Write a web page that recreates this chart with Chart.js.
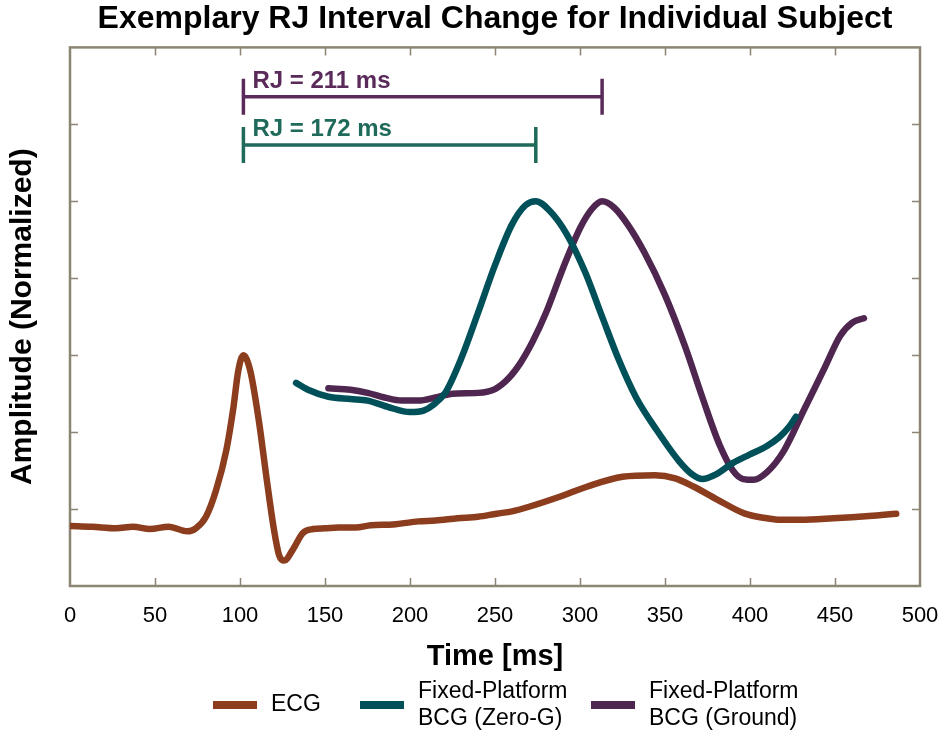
<!DOCTYPE html>
<html>
<head>
<meta charset="utf-8">
<script src="https://cdn.jsdelivr.net/npm/chart.js@4.4.0/dist/chart.umd.min.js"></script>
<style>
  html, body { margin: 0; padding: 0; background: #fff; }
</style>
</head>
<body>
<canvas id="rj-chart" width="941" height="734"></canvas>
<script>
// Traces: time in ms, amplitude in normalized units (frame ticks at 1..6)
const ecgMs  = [0, 13, 27, 37, 47, 58, 69, 74, 80, 86, 92, 96, 99, 102, 106, 111, 116, 120, 123, 126, 131, 137, 143, 150, 158, 168, 177, 190, 205, 215, 228, 240, 251, 260, 270, 288, 304, 325, 344, 356, 367, 381, 397, 410, 418, 430, 449, 470, 486];
const ecgAmp = [0.78, 0.77, 0.75, 0.77, 0.74, 0.77, 0.71, 0.75, 0.90, 1.25, 1.77, 2.30, 2.80, 3.00, 2.80, 2.16, 1.34, 0.73, 0.40, 0.33, 0.47, 0.69, 0.74, 0.75, 0.76, 0.76, 0.79, 0.80, 0.84, 0.85, 0.88, 0.90, 0.94, 0.97, 1.03, 1.16, 1.29, 1.42, 1.44, 1.40, 1.29, 1.12, 0.94, 0.88, 0.86, 0.86, 0.88, 0.91, 0.94];

const zeroGMs  = [133, 140, 152, 165, 175, 188, 200, 208, 214, 221, 230, 240, 250, 260, 268, 274, 282, 292, 303, 313, 323, 333, 345, 358, 366, 372, 380, 390, 400, 410, 417, 423, 427];
const zeroGAmp = [2.64, 2.55, 2.46, 2.43, 2.41, 2.32, 2.26, 2.28, 2.36, 2.52, 2.95, 3.55, 4.17, 4.70, 4.95, 5.00, 4.88, 4.58, 4.08, 3.50, 2.93, 2.45, 2.03, 1.63, 1.45, 1.39, 1.45, 1.60, 1.71, 1.82, 1.93, 2.07, 2.20];

const groundMs  = [152, 165, 175, 185, 195, 205, 215, 225, 240, 250, 258, 265, 272, 280, 290, 300, 307, 313, 320, 328, 338, 350, 362, 372, 382, 390, 396, 402, 410, 420, 432, 444, 453, 460, 467];
const groundAmp = [2.57, 2.55, 2.51, 2.45, 2.41, 2.41, 2.45, 2.50, 2.51, 2.56, 2.70, 2.90, 3.17, 3.55, 4.13, 4.65, 4.90, 5.00, 4.92, 4.70, 4.33, 3.78, 3.10, 2.45, 1.84, 1.50, 1.39, 1.38, 1.48, 1.76, 2.30, 2.84, 3.25, 3.42, 3.48];

// RJ intervals: R peak to J peak of each BCG
const rPeakMs   = 102;
const rjMs      = [211, 172];
const rjLevel   = [6.36, 5.73];
const rjColors  = ['#5a2b5a', '#1f6a5b'];

const seriesLabels = ['ECG', 'Fixed-Platform\nBCG (Zero-G)', 'Fixed-Platform\nBCG (Ground)'];
const seriesColors = ['#8c3d1e', '#00505a', '#4f2650'];

const FRAME = '#8d8573';

function toPoints(xs, ys) { return xs.map((x, i) => ({ x, y: ys[i] })); }

// frame with inward tick marks on all four sides
const framePlugin = {
  id: 'frame',
  beforeDatasetsDraw(chart) {
    const { ctx, chartArea: a, scales: { x, y } } = chart;
    const len = 8;
    ctx.save();
    ctx.strokeStyle = FRAME;
    ctx.lineWidth = 2.5;
    ctx.strokeRect(a.left, a.top, a.right - a.left, a.bottom - a.top);
    ctx.lineWidth = 1.5;
    ctx.beginPath();
    x.ticks.forEach(t => {
      if (t.value <= x.min || t.value >= x.max) return;
      const px = Math.round(x.getPixelForValue(t.value)) + 0.5;
      ctx.moveTo(px, a.bottom); ctx.lineTo(px, a.bottom - len);
      ctx.moveTo(px, a.top);    ctx.lineTo(px, a.top + len);
    });
    y.ticks.forEach(t => {
      if (t.value <= y.min || t.value >= y.max) return;
      const py = Math.round(y.getPixelForValue(t.value)) + 0.5;
      ctx.moveTo(a.left, py);  ctx.lineTo(a.left + len, py);
      ctx.moveTo(a.right, py); ctx.lineTo(a.right - len, py);
    });
    ctx.stroke();
    ctx.restore();
  }
};

// RJ interval brackets with their labels
const rjPlugin = {
  id: 'rjBrackets',
  afterDatasetsDraw(chart) {
    const { ctx, scales: { x, y } } = chart;
    ctx.save();
    ctx.lineWidth = 3.5;
    ctx.font = 'bold 24px "Liberation Sans", Arial, sans-serif';
    ctx.textBaseline = 'alphabetic';
    rjMs.forEach((ms, i) => {
      const x0 = x.getPixelForValue(rPeakMs);
      const x1 = x.getPixelForValue(rPeakMs + ms);
      const py = y.getPixelForValue(rjLevel[i]);
      ctx.strokeStyle = rjColors[i];
      ctx.fillStyle = rjColors[i];
      ctx.beginPath();
      ctx.moveTo(x0, py - 18); ctx.lineTo(x0, py + 18);
      ctx.moveTo(x0, py);      ctx.lineTo(x1, py);
      ctx.moveTo(x1, py - 18); ctx.lineTo(x1, py + 18);
      ctx.stroke();
      ctx.fillText('RJ = ' + ms + ' ms', x0 + 9, py - 9);
    });
    ctx.restore();
  }
};

// legend row under the axis, two-line labels allowed
const legendPlugin = {
  id: 'rowLegend',
  afterDraw(chart, args, opts) {
    const { ctx } = chart;
    ctx.save();
    ctx.font = '23px "Liberation Sans", Arial, sans-serif';
    ctx.textBaseline = 'middle';
    ctx.fillStyle = '#000';
    chart.data.datasets.forEach((ds, i) => {
      const sx = opts.swatchX[i];
      ctx.strokeStyle = ds.borderColor;
      ctx.lineWidth = 8;
      ctx.beginPath();
      ctx.moveTo(sx, opts.y); ctx.lineTo(sx + 44, opts.y);
      ctx.stroke();
      const lines = ds.label.split('\n');
      const lh = 27;
      const y0 = opts.y - (lines.length - 1) * lh / 2;
      lines.forEach((t, k) => ctx.fillText(t, sx + 58, y0 + k * lh));
    });
    ctx.restore();
  }
};

const datasets = [
  toPoints(ecgMs, ecgAmp),
  toPoints(zeroGMs, zeroGAmp),
  toPoints(groundMs, groundAmp)
].map((data, i) => ({
  label: seriesLabels[i],
  data,
  borderColor: seriesColors[i],
  backgroundColor: seriesColors[i],
  borderWidth: 6.5,
  borderCapStyle: 'round',
  borderJoinStyle: 'round',
  pointRadius: 0,
  cubicInterpolationMode: 'monotone',
  fill: false
}));

new Chart(document.getElementById('rj-chart'), {
  type: 'line',
  data: { datasets },
  plugins: [framePlugin, rjPlugin, legendPlugin],
  options: {
    responsive: false,
    animation: false,
    devicePixelRatio: 1,
    layout: { padding: { top: 0, right: 21, bottom: 60, left: 0 } },
    plugins: {
      legend: { display: false },
      tooltip: { enabled: false },
      title: {
        display: true,
        fullSize: false,
        text: 'Exemplary RJ Interval Change for Individual Subject',
        color: '#000',
        font: { family: '"Liberation Sans", Arial, sans-serif', size: 32, weight: 'bold' },
        padding: { top: 0, bottom: 9 }
      },
      rowLegend: { y: 705, swatchX: [213, 360, 591] }
    },
    scales: {
      x: {
        type: 'linear',
        min: 0, max: 500,
        grid: { display: false, drawTicks: false },
        border: { display: false },
        ticks: {
          stepSize: 50,
          color: '#000',
          padding: 17,
          maxRotation: 0,
          font: { family: '"Liberation Sans", Arial, sans-serif', size: 22 }
        },
        title: {
          display: true,
          text: 'Time [ms]',
          color: '#000',
          font: { family: '"Liberation Sans", Arial, sans-serif', size: 29, weight: 'bold' },
          padding: { top: 0, bottom: 0 }
        },
        afterFit(s) { s.height = 88; s.paddingLeft = 0; s.paddingRight = 0; }
      },
      y: {
        min: 0, max: 7,
        grid: { display: false, drawTicks: false },
        border: { display: false },
        ticks: { stepSize: 1, display: false },
        title: {
          display: true,
          text: 'Amplitude (Normalized)',
          color: '#000',
          font: { family: '"Liberation Sans", Arial, sans-serif', size: 30, weight: 'bold' },
          padding: { top: 5, bottom: 0 }
        },
        afterFit(s) { s.width = 70; }
      }
    }
  }
});
</script>
</body>
</html>
